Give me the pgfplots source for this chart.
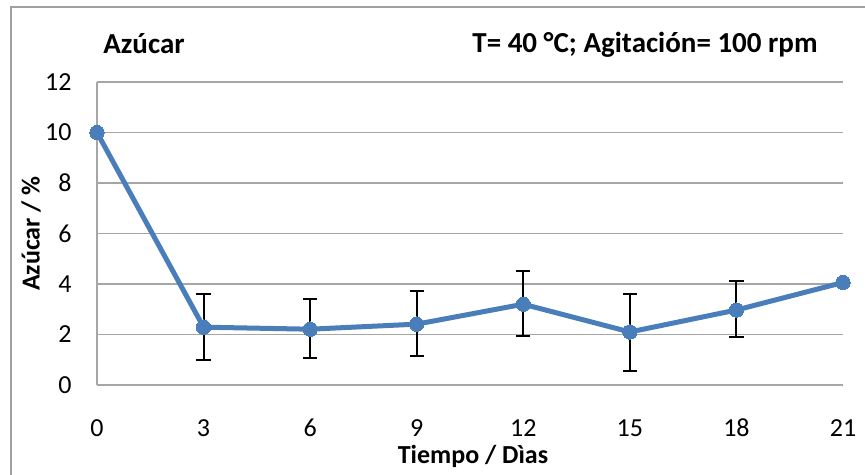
\documentclass[border=0pt]{standalone}
\usepackage{pgfplots}
\pgfplotsset{compat=1.18}
\usepackage{pgfplotstable}
\usepackage{fontspec}
\setmainfont{Carlito}
\definecolor{ser}{HTML}{4A7EBB}
\definecolor{grd}{HTML}{A6A6A6}
\definecolor{frm}{HTML}{A0A0A0}
\pgfplotstableread{
x y ep em
0 10.00 0 0
3 2.29 1.32 1.30
6 2.21 1.20 1.15
9 2.41 1.31 1.27
12 3.20 1.30 1.27
15 2.10 1.52 1.54
18 2.97 1.16 1.08
21 4.06 0 0
}\datatable
\begin{document}
\begin{tikzpicture}
\useasboundingbox (0,0) rectangle (432.5pt,-237.5pt);
\draw[frm, line width=1pt] (5.5pt,-245pt) -- (5.5pt,-3.7pt) -- (440pt,-3.7pt);
\begin{axis}[
  at={(48.5pt,-192.5pt)}, anchor=south west,
  scale only axis, width=373pt, height=151.5pt,
  xmin=0, xmax=21, ymin=0, ymax=12,
  xtick={0,3,...,21}, ytick={0,2,...,12},
  axis lines*=left,
  axis line style={draw=grd, line width=0.9pt, -},
  major tick length=0pt,
  ymajorgrids, grid style={grd, line width=0.9pt},
  clip=false,
  /pgf/number format/assume math mode=true,
  tick label style={font=\fontsize{13}{15}\selectfont, black},
  yticklabel style={anchor=east, inner sep=0pt, xshift=-12.5pt},
  xticklabel style={anchor=center, inner sep=0pt, yshift=-21.5pt},
]
\addplot[ser, line width=2.5pt, mark=*, mark size=3.6pt,
  mark options={fill=ser, draw=ser, line width=0pt},
  error bars/.cd, y dir=both, y explicit,
  error bar style={black, line width=1pt},
  error mark options={black, line width=1pt, mark size=3.6pt, rotate=90}]
  table[x=x, y=y, y error plus=ep, y error minus=em]{\datatable};
\end{axis}
\node[anchor=base west, inner sep=0pt, font=\fontsize{14.5}{17}\selectfont\bfseries] at (51.5pt,-26.8pt) {Azúcar};
\node[anchor=base west, inner sep=0pt, font=\fontsize{14.5}{17}\selectfont\bfseries] at (236pt,-26.3pt) {T= 40 °C; Agitación= 100 rpm};
\node[anchor=base, inner sep=0pt, font=\fontsize{13}{15}\selectfont\bfseries] at (236.5pt,-231.5pt) {Tiempo / Dìas};
\node[rotate=90, inner sep=0pt, font=\fontsize{13}{15}\selectfont\bfseries] at (15.5pt,-116.75pt) {Azúcar / \%};
\end{tikzpicture}
\end{document}
